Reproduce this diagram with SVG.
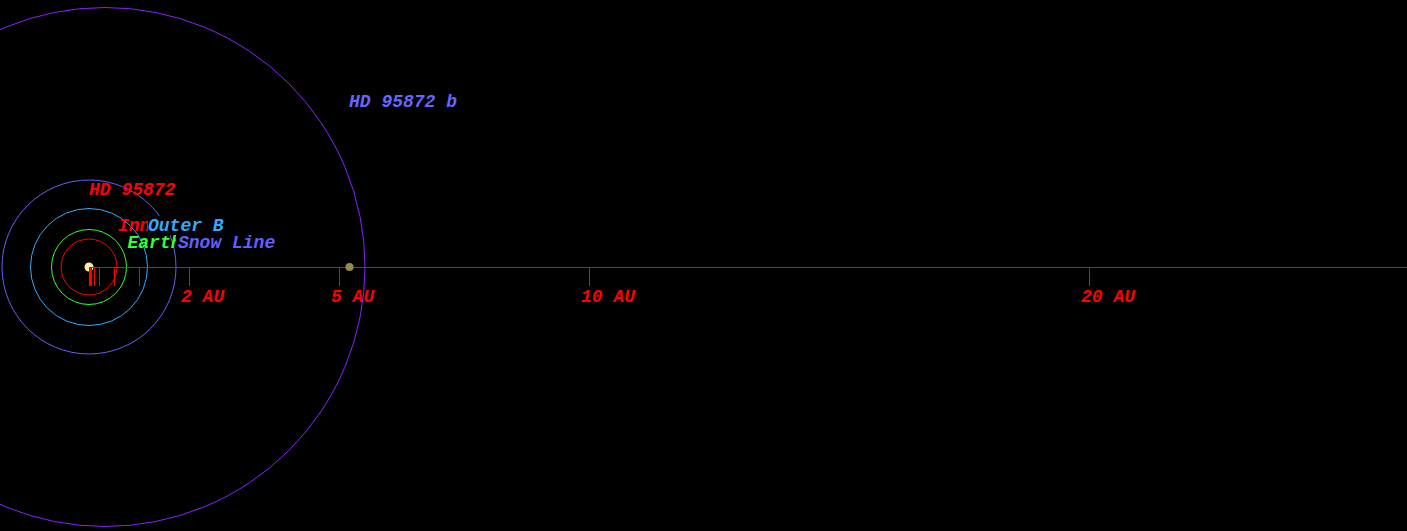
<svg xmlns="http://www.w3.org/2000/svg" width="1407" height="531" viewBox="0 0 1407 531">
<style>
  .lbl { font-family: "Liberation Mono", "Courier New", monospace; font-size: 18px; font-weight: bold; font-style: italic; }
  .orb { fill: none; stroke-width: 1; }
  .tick { stroke: #ff0000; stroke-width: 1; shape-rendering: crispEdges; }
</style>
<rect x="0" y="0" width="1407" height="531" fill="#000000"/>
<g id="orbits">
  <ellipse id="orbit-b" class="orb" cx="105" cy="267" rx="260" ry="259.5" stroke="#8822ff"/>
  <circle id="snow-line" class="orb" cx="89" cy="267" r="87" stroke="#6060ff"/>
  <circle id="outer-b" class="orb" cx="89" cy="267" r="58.5" stroke="#33aaff"/>
  <circle id="earth" class="orb" cx="89" cy="267" r="37.5" stroke="#33ff33"/>
  <circle id="inner" class="orb" cx="89" cy="267" r="28" stroke="#ff0000"/>
</g>
<g id="star">
  <circle cx="89" cy="267" r="4.5" fill="#ffeeaa"/>
</g>
<g id="connectors">
  <line class="tick" x1="89" y1="267.5" x2="1407" y2="267.5"/>
  <line class="tick" x1="89.5" y1="267" x2="89.5" y2="286"/>
  <line class="tick" x1="90.5" y1="267" x2="90.5" y2="286"/>
  <line class="tick" x1="91.5" y1="267" x2="91.5" y2="286"/>
  <line class="tick" x1="94.5" y1="267" x2="94.5" y2="286"/>
  <line class="tick" x1="99.5" y1="267" x2="99.5" y2="286"/>
  <line class="tick" x1="114.5" y1="267" x2="114.5" y2="286"/>
  <line class="tick" x1="139.5" y1="267" x2="139.5" y2="286"/>
  <line class="tick" x1="189.5" y1="267" x2="189.5" y2="286"/>
  <line class="tick" x1="339.5" y1="267" x2="339.5" y2="286"/>
  <line class="tick" x1="589.5" y1="267" x2="589.5" y2="286"/>
  <line class="tick" x1="1089.5" y1="267" x2="1089.5" y2="286"/>
</g>
<g id="planet">
  <circle cx="349.5" cy="267" r="4" fill="#8f8f4a"/>
  <text class="lbl" x="349" y="107" fill="#6666ff">HD 95872 b</text>
</g>
<g id="axis-labels" class="lbl" fill="#ff0000">
  <text x="181" y="302">2 AU</text>
  <text x="331" y="302">5 AU</text>
  <text x="581" y="302">10 AU</text>
  <text x="1081" y="302">20 AU</text>
</g>
<g id="star-label">
  <text class="lbl" x="89" y="195" fill="#ff0000">HD 95872</text>
</g>
<g id="zone-labels">
  <text class="lbl" x="118" y="231" fill="#ff0000">Inn</text>
  <rect x="148" y="216" width="80" height="19" fill="#000000"/>
  <text class="lbl" x="148" y="231" fill="#33aaff">Outer B</text>
  <text class="lbl" x="127.5" y="248" fill="#33ff33">Earth</text>
  <rect x="176" y="233" width="102" height="19" fill="#000000"/>
  <text class="lbl" x="178" y="248" fill="#6060ff">Snow Line</text>
</g>
</svg>
